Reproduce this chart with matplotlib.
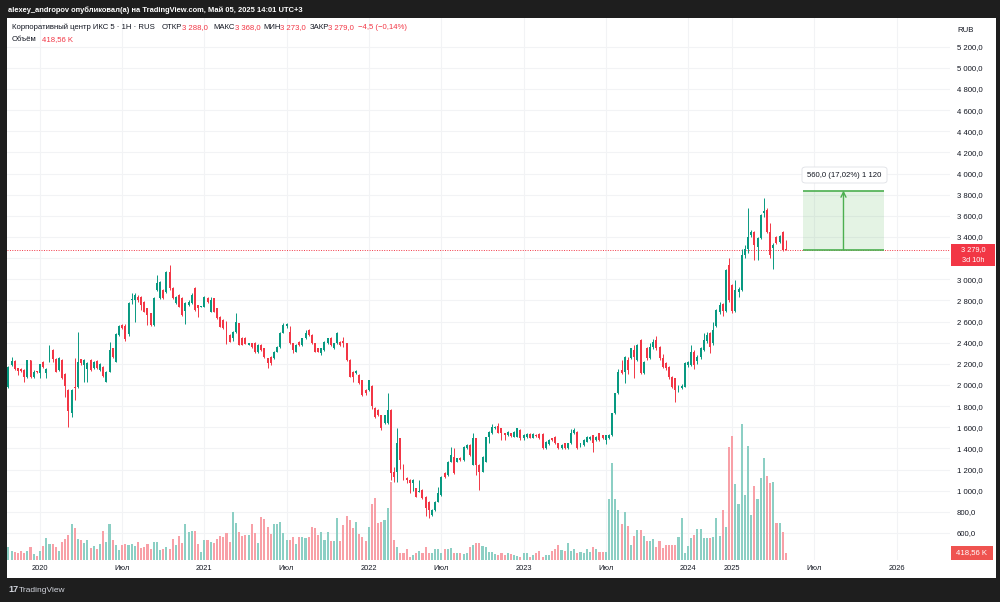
import matplotlib
matplotlib.use("Agg")
import matplotlib.pyplot as plt
import pandas as pd
from matplotlib.patches import Rectangle, FancyBboxPatch

plt.rcParams['font.family'] = ['Liberation Sans', 'DejaVu Sans']

# ---------------- data (weekly bars, X5 / "Корпоративный центр ИКС 5") ----------------
opens = [
    1978, 2189, 2227, 2158, 2151, 2142, 2073, 2236, 2079, 2126,
    2110, 2221, 2110, 2221, 2331, 2250, 2142, 2236, 2104, 1953,
    1732, 1984, 1984, 2243, 2190, 2150, 2236, 2158, 2227, 2142,
    2173, 2032, 2126, 2347, 2221, 2473, 2565, 2560, 2480, 2800,
    2800, 2836, 2836, 2789, 2725, 2678, 2568, 2899, 2820, 2899,
    2883, 3072, 2915, 2773, 2852, 2820, 2700, 2757, 2773, 2915,
    2757, 2741, 2741, 2820, 2694, 2820, 2725, 2647, 2615, 2599,
    2473, 2442, 2505, 2584, 2442, 2442, 2379, 2394, 2400, 2315,
    2378, 2347, 2252, 2268, 2252, 2315, 2363, 2495, 2560, 2500,
    2394, 2315, 2410, 2378, 2441, 2520, 2473, 2394, 2347, 2300,
    2331, 2394, 2441, 2347, 2394, 2410, 2420, 2394, 2237, 2126,
    2110, 2095, 2047, 1953, 1953, 1990, 1780, 1760, 1715, 1640,
    1637, 1763, 1180, 1180, 1495, 1243, 1123, 1101, 1070, 1022,
    991, 1007, 944, 896, 770, 817, 896, 960, 1164, 1148,
    1274, 1322, 1274, 1306, 1290, 1400, 1432, 1243, 1495, 1243,
    1180, 1275, 1510, 1542, 1590, 1612, 1590, 1542, 1527, 1542,
    1510, 1510, 1574, 1495, 1510, 1540, 1500, 1530, 1540, 1540,
    1400, 1440, 1495, 1510, 1448, 1400, 1448, 1400, 1448, 1543,
    1558, 1417, 1432, 1464, 1485, 1527, 1480, 1543, 1527, 1480,
    1495, 1527, 1732, 1921, 2142, 2126, 2236, 2252, 2331, 2237,
    2425, 2110, 2347, 2260, 2363, 2426, 2363, 2253, 2205, 2174,
    2079, 2063, 1953, 1970, 1985, 2190, 2190, 2316, 2230, 2268,
    2331, 2420, 2489, 2395, 2560, 2690, 2770, 2700, 3136, 2950,
    2700, 2880, 2900, 3230, 3290, 3419, 3451, 3309, 3388, 3631,
    3656, 3451, 3293, 3404, 3356, 3451, 3288,
]
highs = [
    2180, 2268, 2236, 2165, 2160, 2150, 2240, 2240, 2140, 2135,
    2200, 2230, 2160, 2378, 2340, 2260, 2265, 2245, 2110, 1960,
    1960, 2252, 2500, 2250, 2245, 2215, 2245, 2230, 2235, 2205,
    2180, 2135, 2410, 2355, 2490, 2570, 2580, 2580, 2790, 2870,
    2870, 2850, 2845, 2795, 2730, 2685, 2830, 3041, 2985, 2910,
    3080, 3135, 2930, 2845, 2860, 2830, 2790, 2800, 2870, 2930,
    2760, 2750, 2840, 2830, 2830, 2825, 2730, 2655, 2620, 2605,
    2480, 2510, 2678, 2590, 2450, 2450, 2400, 2400, 2410, 2385,
    2385, 2350, 2260, 2275, 2320, 2370, 2505, 2583, 2590, 2560,
    2400, 2385, 2415, 2445, 2520, 2530, 2480, 2400, 2350, 2350,
    2415, 2445, 2450, 2400, 2500, 2420, 2457, 2400, 2245, 2130,
    2140, 2100, 2050, 1960, 2050, 2000, 1790, 1770, 1720, 1720,
    1921, 1770, 1220, 1590, 1500, 1250, 1130, 1110, 1110, 1030,
    1100, 1015, 950, 900, 825, 900, 1038, 1140, 1180, 1280,
    1416, 1400, 1310, 1315, 1420, 1440, 1440, 1542, 1500, 1250,
    1330, 1510, 1565, 1627, 1615, 1637, 1595, 1548, 1565, 1548,
    1565, 1596, 1580, 1540, 1545, 1545, 1545, 1535, 1545, 1545,
    1470, 1490, 1500, 1515, 1452, 1440, 1452, 1455, 1580, 1590,
    1565, 1455, 1485, 1515, 1515, 1530, 1515, 1548, 1530, 1530,
    1535, 1740, 1925, 2150, 2236, 2275, 2268, 2355, 2378, 2385,
    2440, 2230, 2360, 2395, 2440, 2460, 2370, 2290, 2215, 2180,
    2090, 2070, 2000, 2010, 2215, 2230, 2380, 2330, 2280, 2360,
    2490, 2500, 2500, 2600, 2720, 2790, 2780, 3100, 3199, 2960,
    2990, 2930, 3290, 3320, 3672, 3467, 3460, 3400, 3620, 3766,
    3670, 3530, 3341, 3410, 3420, 3460, 3368,
]
lows = [
    1970, 2180, 2140, 2095, 2120, 2032, 2065, 2065, 2070, 2115,
    2063, 2165, 2063, 2215, 2221, 2120, 2130, 2055, 1890, 1606,
    1700, 1858, 1975, 2190, 2032, 2032, 2130, 2150, 2150, 2135,
    2075, 2025, 2120, 2260, 2215, 2465, 2530, 2420, 2460, 2770,
    2600, 2790, 2710, 2690, 2568, 2560, 2560, 2890, 2810, 2810,
    2875, 2900, 2810, 2765, 2735, 2655, 2580, 2750, 2765, 2700,
    2647, 2735, 2735, 2780, 2690, 2690, 2625, 2545, 2530, 2390,
    2405, 2420, 2490, 2375, 2375, 2385, 2375, 2355, 2300, 2305,
    2320, 2260, 2160, 2190, 2245, 2310, 2355, 2490, 2540, 2390,
    2300, 2310, 2370, 2370, 2435, 2465, 2390, 2310, 2310, 2280,
    2325, 2390, 2370, 2340, 2390, 2370, 2363, 2230, 2075, 2032,
    2100, 2010, 1900, 1910, 1945, 1770, 1690, 1705, 1575, 1630,
    1630, 1100, 1080, 1085, 1210, 1101, 1070, 975, 1000, 940,
    985, 920, 760, 740, 760, 810, 890, 955, 1125, 1140,
    1270, 1160, 1268, 1285, 1285, 1395, 1330, 1240, 1148, 1007,
    1175, 1270, 1450, 1535, 1585, 1545, 1480, 1480, 1520, 1510,
    1505, 1505, 1480, 1480, 1500, 1495, 1495, 1510, 1490, 1395,
    1395, 1435, 1475, 1440, 1395, 1395, 1395, 1395, 1445, 1540,
    1395, 1410, 1428, 1460, 1480, 1370, 1475, 1475, 1490, 1440,
    1490, 1520, 1728, 1915, 2100, 2016, 2100, 2245, 2063, 2230,
    2105, 2100, 2240, 2250, 2340, 2330, 2240, 2160, 2140, 2060,
    1970, 1843, 1930, 1960, 1980, 2170, 2180, 2150, 2200, 2250,
    2320, 2400, 2300, 2380, 2550, 2670, 2650, 2690, 2790, 2680,
    2690, 2830, 2890, 3200, 3250, 3400, 3183, 3183, 3380, 3593,
    3440, 3200, 3095, 3330, 3340, 3270, 3273,
]
closes = [
    2173, 2227, 2151, 2136, 2136, 2079, 2236, 2073, 2126, 2120,
    2196, 2173, 2151, 2331, 2250, 2126, 2252, 2063, 1991, 1754,
    1953, 1968, 2221, 2211, 2236, 2205, 2142, 2221, 2158, 2196,
    2085, 2126, 2331, 2268, 2479, 2558, 2536, 2440, 2780, 2810,
    2850, 2804, 2757, 2694, 2662, 2568, 2820, 2962, 2978, 2820,
    3072, 2915, 2820, 2836, 2741, 2662, 2773, 2789, 2852, 2710,
    2725, 2745, 2836, 2789, 2804, 2694, 2631, 2552, 2536, 2394,
    2410, 2505, 2600, 2379, 2379, 2390, 2394, 2363, 2310, 2378,
    2331, 2268, 2205, 2205, 2315, 2363, 2495, 2568, 2575, 2394,
    2331, 2378, 2378, 2441, 2489, 2473, 2394, 2315, 2315, 2347,
    2410, 2441, 2378, 2394, 2489, 2378, 2400, 2237, 2079, 2079,
    2130, 2016, 1906, 1920, 2047, 1800, 1700, 1715, 1590, 1715,
    1763, 1164, 1130, 1450, 1290, 1164, 1101, 1070, 1101, 944,
    1000, 928, 833, 817, 817, 896, 975, 1133, 1133, 1274,
    1337, 1164, 1306, 1290, 1416, 1432, 1337, 1495, 1243, 1180,
    1322, 1505, 1558, 1605, 1605, 1550, 1542, 1527, 1558, 1517,
    1558, 1590, 1495, 1530, 1540, 1500, 1540, 1515, 1495, 1400,
    1464, 1480, 1480, 1448, 1400, 1432, 1400, 1448, 1543, 1574,
    1400, 1448, 1480, 1511, 1510, 1448, 1511, 1480, 1495, 1527,
    1527, 1732, 1921, 2126, 2110, 2268, 2142, 2347, 2268, 2378,
    2110, 2220, 2260, 2363, 2410, 2347, 2253, 2174, 2158, 2080,
    1985, 1953, 1985, 1995, 2206, 2220, 2316, 2190, 2268, 2347,
    2426, 2470, 2363, 2520, 2710, 2760, 2700, 3088, 2805, 2700,
    2900, 2910, 3230, 3290, 3404, 3451, 3325, 3388, 3609, 3646,
    3451, 3230, 3325, 3341, 3410, 3277, 3279,
]
volumes_k = [
    794, 563, 519, 456, 563, 419, 563, 794, 375, 250,
    563, 875, 1356, 1000, 1000, 831, 563, 1125, 1294, 1563,
    2231, 1981, 1313, 1250, 1044, 1250, 731, 875, 669, 1000,
    1813, 1144, 2250, 1250, 938, 625, 938, 1000, 938, 1000,
    875, 1144, 731, 794, 1000, 669, 1106, 1106, 625, 669,
    831, 669, 1294, 938, 1500, 1081, 2231, 1769, 1831, 1831,
    1000, 519, 1250, 1250, 1144, 1044, 1294, 1500, 1456, 1669,
    1144, 2981, 2331, 1769, 1500, 1563, 1563, 2250, 1669, 1044,
    2669, 2544, 2081, 1606, 2250, 2250, 2394, 1706, 1250, 1250,
    1419, 1000, 1456, 1456, 1356, 1419, 2081, 1981, 1563, 1769,
    1250, 1769, 1206, 1206, 2606, 1206, 2188, 2750, 2500, 1981,
    2394, 1625, 1456, 1206, 2081, 3500, 3856, 2331, 2394, 2500,
    3231, 4875, 1250, 831, 456, 456, 669, 206, 294, 456,
    581, 419, 831, 419, 456, 669, 669, 419, 669, 706,
    731, 456, 419, 419, 375, 456, 794, 938, 1044, 1044,
    875, 794, 519, 519, 375, 313, 419, 313, 419, 356,
    313, 250, 169, 419, 456, 206, 313, 456, 581, 206,
    313, 313, 581, 669, 938, 625, 581, 1044, 581, 669,
    456, 519, 456, 669, 519, 831, 669, 519, 519, 519,
    3794, 6044, 3794, 3125, 2250, 3019, 2125, 938, 1500, 1875,
    1875, 1500, 1206, 1206, 1294, 794, 1206, 731, 938, 938,
    938, 938, 1456, 2606, 456, 875, 1356, 1563, 1919, 1919,
    1356, 1356, 1356, 1456, 2606, 1500, 3125, 2044, 7044, 7750,
    4750, 3500, 8500, 4063, 7125, 2813, 4625, 3794, 5106, 6356,
    5250, 4794, 4894, 2294, 2331, 1769, 419,
]

# weekly bar dates (MOEX break in spring 2022, no trading Apr 2024 - Jan 2025)
gap_2022 = pd.to_datetime(['2022-02-28', '2022-03-07', '2022-03-14'])
dates_a = pd.date_range('2019-10-28', '2024-04-01', freq='W-MON')
dates_a = dates_a[~dates_a.isin(gap_2022)]
dates_b = pd.date_range('2025-01-06', '2025-05-05', freq='W-MON')
bar_dates = list(dates_a) + list(dates_b)
future_dates = list(pd.date_range('2025-05-12', periods=60, freq='W-MON'))

price_ticks = list(range(600, 5400, 200))
month_label = {7: 'Июл'}

legend_title = 'Корпоративный центр ИКС 5 · 1Н · RUS'
last_change = '−4,5 (−0,14%)'
last_volume_label = '418,56 K'
measure_delta = 560.0
measure_text = '560,0 (17,02%) 1 120'
countdown = '3d 10h'
header = 'alexey_andropov опубликовал(а) на TradingView.com, Май 05, 2025 14:01 UTC+3'

n = len(closes)
assert len(opens) == n and len(highs) == n and len(lows) == n and len(volumes_k) == n == len(bar_dates), \
    (len(opens), len(highs), len(lows), n, len(volumes_k), len(bar_dates))

# ---------------- figure ----------------
W, H = 1000, 602
fig = plt.figure(figsize=(W / 100, H / 100), dpi=100)
fig.patch.set_facecolor('#1e1e1e')


def fx(px):
    return px / W


def fy(py):
    return 1 - py / H


fig.patches.append(Rectangle((fx(7), fy(578)), fx(996) - fx(7), fy(18) - fy(578),
                             transform=fig.transFigure, facecolor='white', edgecolor='none', zorder=-5))

rect = [fx(7), fy(560), fx(950) - fx(7), fy(18) - fy(560)]
ax_vol = fig.add_axes(rect)
ax = fig.add_axes(rect)
ax_vol.set_zorder(1)
ax.set_zorder(2)
for a in (ax_vol, ax):
    a.set_facecolor('none')
    for s in a.spines.values():
        s.set_visible(False)

GREEN = '#089981'
RED = '#F23645'
VGREEN = '#8ccfc4'
VRED = '#f8a0a7'
TXT = '#131722'
GRID = '#f2f3f5'

xlim = (-0.44, 297.9)
ylim = (345, 5472)
ax.set_xlim(*xlim)
ax.set_ylim(*ylim)
ax_vol.set_xlim(*xlim)
ax_vol.set_ylim(0, 542 * 62.5)

# ticks along time
all_dates = bar_dates + future_dates
tick_pos, tick_lab = [], []
for k in range(1, len(all_dates)):
    d, p = all_dates[k], all_dates[k - 1]
    if k > xlim[1]:
        break
    if d.year != p.year:
        tick_pos.append(k)
        tick_lab.append(str(d.year))
    elif d.month in month_label and p.month != d.month:
        tick_pos.append(k)
        tick_lab.append(month_label[d.month])

# grid (drawn beneath volume)
for pt in price_ticks:
    ax_vol.plot(list(xlim), [pt, pt], transform=ax.transData, color=GRID, lw=0.8, zorder=0)
for tp in tick_pos:
    ax_vol.axvline(tp, color=GRID, lw=0.8, zorder=0)

# volume
up = [c >= o for o, c in zip(opens, closes)]
idx = list(range(n))
ax_vol.bar(idx, volumes_k, width=0.66, color=[VGREEN if u else VRED for u in up], zorder=2)
ax_vol.set_xticks([])
ax_vol.set_yticks([])

# candles
cols = [GREEN if u else RED for u in up]
wick_lo = [min(l, o, c) for l, o, c in zip(lows, opens, closes)]
wick_hi = [max(h, o, c) for h, o, c in zip(highs, opens, closes)]
ax.vlines(idx, wick_lo, wick_hi, colors=cols, lw=0.7, zorder=3)
body_b = [min(o, c) for o, c in zip(opens, closes)]
body_h = [max(abs(c - o), 9) for o, c in zip(opens, closes)]
ax.bar(idx, body_h, bottom=body_b, width=0.62, color=cols, zorder=4, linewidth=0)

# last price dotted line
last_close = closes[-1]
ax.axhline(last_close, color=RED, lw=0.7, ls=(0, (1, 1.5)), zorder=2)

# measurement tool
mx0, mx1 = 251.4, 277.0
mtop = last_close + measure_delta
ax.add_patch(Rectangle((mx0, last_close), mx1 - mx0, measure_delta, facecolor='#4caf50', alpha=0.15,
                       edgecolor='none', zorder=5))
ax.plot([mx0, mx1], [mtop, mtop], color='#4caf50', lw=1.2, zorder=6, solid_capstyle='butt')
ax.plot([mx0, mx1], [last_close, last_close], color='#4caf50', lw=1.2, zorder=6, solid_capstyle='butt')
ax.annotate('', xy=((mx0 + mx1) / 2, mtop), xytext=((mx0 + mx1) / 2, last_close),
            arrowprops=dict(arrowstyle='->', color='#4caf50', lw=1.0, mutation_scale=9,
                            shrinkA=0, shrinkB=0), zorder=6)

# axes ticks (the tick hidden behind the last-price marker is left blank)
def fmt_price(v):
    return f'{v:,.1f}'.replace(',', ' ').replace('.', ',')


ax.yaxis.tick_right()
ax.set_yticks(price_ticks)
ax.set_yticklabels(['' if abs(v - last_close) < 110 else fmt_price(v) for v in price_ticks])
ax.tick_params(axis='y', length=0, pad=5, labelsize=5.6, labelcolor=TXT)
ax.set_xticks(tick_pos)
ax.set_xticklabels(tick_lab)
ax.tick_params(axis='x', length=0, pad=3.6, labelsize=5.4, labelcolor=TXT)

# right-axis labels
fig.patches.append(Rectangle((fx(951), fy(266)), fx(995) - fx(951), fy(244) - fy(266),
                             transform=fig.transFigure, facecolor=RED, edgecolor='none', zorder=10))
fig.text(fx(973), fy(249.5), fmt_price(last_close),
         color='white', fontsize=5.3, ha='center', va='center', zorder=11)
fig.text(fx(973), fy(260.3), countdown, color='white', fontsize=5.3, ha='center', va='center', zorder=11)
fig.patches.append(Rectangle((fx(951), fy(560)), fx(993) - fx(951), fy(546) - fy(560),
                             transform=fig.transFigure, facecolor='#ef5350', edgecolor='none', zorder=10))
fig.text(fx(972), fy(553), last_volume_label, color='white', fontsize=5.6, ha='center', va='center', zorder=11)
fig.text(fx(966), fy(31), 'RUB', color=TXT, fontsize=5.6, ha='center', va='center')

# measurement label box
fig.patches.append(FancyBboxPatch((fx(802), fy(183)), fx(887) - fx(802), fy(167) - fy(183),
                                  boxstyle='round,pad=0,rounding_size=0.004', transform=fig.transFigure,
                                  facecolor='white', edgecolor='#dfe1e6', lw=0.6, zorder=10))
fig.text(fx(844.5), fy(175), measure_text, color=TXT, fontsize=5.6, ha='center', va='center', zorder=11)

# header / legend
fig.text(fx(8), fy(10), header, color='white', fontsize=5.4, fontweight='bold', ha='left', va='center')
y1 = fy(27.5)
fig.text(fx(12), y1, legend_title, color=TXT, fontsize=5.6, ha='left', va='center')
parts = [('ОТКР', 162, TXT), (fmt_price(opens[-1]), 182, RED), ('МАКС', 213, TXT), (fmt_price(highs[-1]), 235, RED),
         ('МИН', 263, TXT), (fmt_price(lows[-1]), 280, RED), ('ЗАКР', 310, TXT), (fmt_price(closes[-1]), 328, RED),
         (last_change, 358, RED)]
for s, xp, c in parts:
    fig.text(fx(xp), y1, s, color=c, fontsize=5.6, ha='left', va='center')
y2 = fy(39.5)
fig.text(fx(12), y2, 'Объём', color=TXT, fontsize=5.6, ha='left', va='center')
fig.text(fx(42), y2, last_volume_label, color=RED, fontsize=5.6, ha='left', va='center')

# footer logo
fig.text(fx(8), fy(590), '17', color='#d1d4dc', fontsize=6.5, fontweight='bold', ha='left', va='center')
fig.text(fx(19), fy(590), 'TradingView', color='#d1d4dc', fontsize=6, ha='left', va='center')

fig.savefig('out.png', dpi=100, facecolor=fig.get_facecolor())
